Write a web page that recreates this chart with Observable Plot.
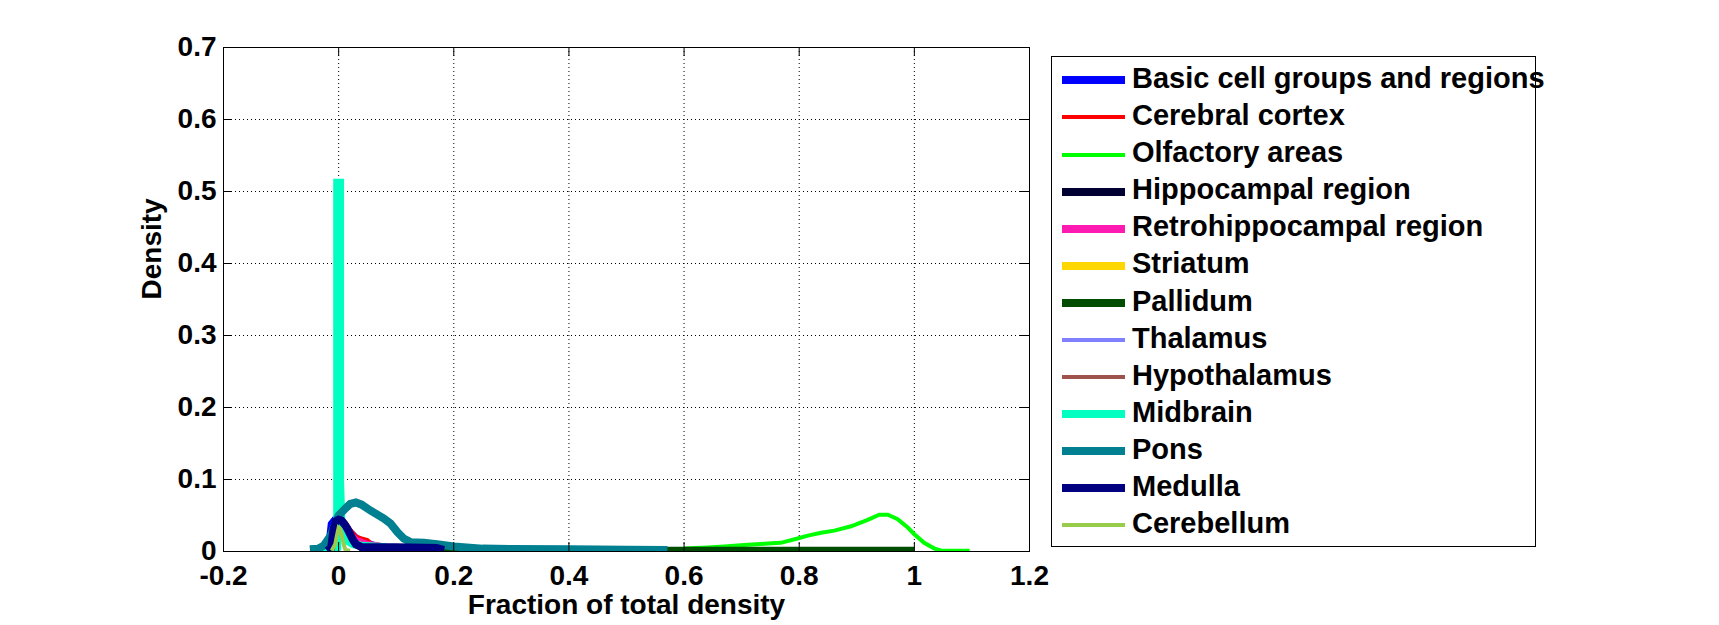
<!DOCTYPE html>
<html>
<head>
<meta charset="utf-8">
<script src="https://cdn.jsdelivr.net/npm/d3@7"></script>
<script src="https://cdn.jsdelivr.net/npm/@observablehq/plot@0.6"></script>
<style>
  html, body { margin: 0; padding: 0; background: #fff; }
  #wrap { position: relative; width: 1719px; height: 625px; overflow: hidden; background: #fff;
          font-family: "Liberation Sans", Arial, Helvetica, sans-serif; font-weight: bold; }
  #chart { position: absolute; left: 0; top: 0; }
  #legend { position: absolute; left: 1051px; top: 56px; width: 483px; height: 486px;
            border: 1px solid #000; box-sizing: content-box; padding-top: 3px; }
  .row { height: 37.1px; line-height: 37.1px; white-space: nowrap; font-size: 29px; color: #000; }
  .sw { display: inline-block; width: 63px; margin-left: 10px; margin-right: 7px; vertical-align: middle; }
</style>
</head>
<body>
<div id="wrap">
  <div id="chart"></div>
  <div id="legend"></div>
</div>
<script>
// ---- Data ----
const seriesNames = [
  "Basic cell groups and regions", "Cerebral cortex", "Olfactory areas", "Hippocampal region",
  "Retrohippocampal region", "Striatum", "Pallidum", "Thalamus", "Hypothalamus",
  "Midbrain", "Pons", "Medulla", "Cerebellum"
];
const seriesColors = [
  "#0000FF", "#FF0000", "#00FF00", "#000033", "#FF1AB1", "#FFD700", "#004C00",
  "#8080FF", "#A0524D", "#00FFC0", "#008090", "#000080", "#99CC4D"
];
const seriesWidths = [8, 4, 4, 8, 8, 8, 8, 4, 4, 8, 8, 8, 4];

const xTicks = [-0.2, 0, 0.2, 0.4, 0.6, 0.8, 1, 1.2];
const yTicks = [0, 0.1, 0.2, 0.3, 0.4, 0.5, 0.6, 0.7];

// [fraction of total density, density]
const basicCells = [[-0.025,0.001],[-0.016,0.01],[-0.012,0.038],[-0.006,0.044],[0,0.043],[0.01,0.036],[0.02,0.026],[0.03,0.018],[0.04,0.014],[0.05,0.011],[0.06,0.008],[0.08,0.004],[0.1,0.002]];
const cerebralCortex = [[-0.01,0.002],[-0.005,0.02],[0,0.04],[0.01,0.042],[0.015,0.037],[0.02,0.03],[0.03,0.021],[0.04,0.018],[0.05,0.016],[0.055,0.012],[0.06,0.006],[0.07,0.003],[0.09,0.002],[0.12,0.001]];
const olfactoryAreas = [[0.6,0.004],[0.641,0.0055],[0.67,0.007],[0.704,0.009],[0.745,0.011],[0.768,0.012],[0.797,0.018],[0.815,0.022],[0.838,0.026],[0.861,0.029],[0.89,0.035],[0.919,0.044],[0.939,0.051],[0.954,0.051],[0.971,0.045],[0.989,0.033],[1.0,0.024],[1.017,0.012],[1.035,0.004],[1.046,0.0015],[1.096,0.001]];
const hippocampal = [[-0.01,0.002],[0,0.04],[0.01,0.035],[0.02,0.02],[0.04,0.006],[0.07,0.002]];
const retrohippocampal = [[-0.01,0.002],[0,0.035],[0.01,0.03],[0.03,0.015],[0.05,0.009],[0.07,0.007],[0.08,0.004],[0.1,0.002]];
const striatum = [[-0.01,0.002],[0,0.03],[0.01,0.025],[0.03,0.01],[0.05,0.004],[0.08,0.002]];
const pallidum = [[0.095,0.001],[0.2,0.001],[0.4,0.001],[0.6,0.001],[0.8,0.001],[1.0,0.001]];
const thalamus = [[-0.03,0.001],[-0.01,0.01],[0,0.03],[0.01,0.025],[0.03,0.008],[0.06,0.002]];
const hypothalamus = [[-0.01,0.002],[0,0.028],[0.01,0.024],[0.03,0.008],[0.06,0.002]];
const midbrain = [[-0.03,0.001],[-0.008,0.002],[-0.0025,0.005],[-0.0025,0.26],[-0.0025,0.512],[0.0025,0.512],[0.0025,0.1],[0.005,0.03],[0.015,0.015],[0.025,0.01],[0.04,0.008],[0.06,0.007],[0.08,0.006],[0.09,0.004],[0.1,0.002]];
const pons = [[-0.05,0.003],[-0.035,0.004],[-0.026,0.008],[-0.014,0.022],[-0.005,0.04],[0,0.05],[0.012,0.06],[0.02,0.066],[0.03,0.068],[0.04,0.065],[0.055,0.057],[0.078,0.046],[0.09,0.039],[0.102,0.027],[0.113,0.018],[0.125,0.013],[0.148,0.012],[0.171,0.01],[0.2,0.007],[0.25,0.004],[0.3,0.0035],[0.4,0.003],[0.5,0.0025],[0.571,0.002]];
const medulla = [[-0.02,0.001],[-0.013,0.005],[-0.009,0.03],[-0.005,0.042],[0,0.044],[0.005,0.043],[0.01,0.038],[0.015,0.032],[0.02,0.024],[0.025,0.016],[0.03,0.01],[0.04,0.006],[0.1,0.006],[0.17,0.005],[0.183,0.002]];
const cerebellum = [[-0.012,0.001],[-0.006,0.01],[-0.003,0.022],[0,0.033],[0.003,0.031],[0.006,0.02],[0.009,0.009],[0.012,0.002],[0.02,0.001]];

const seriesPoints = [basicCells, cerebralCortex, olfactoryAreas, hippocampal, retrohippocampal,
  striatum, pallidum, thalamus, hypothalamus, midbrain, pons, medulla, cerebellum];

// ---- Chart ----
const W = 1719, H = 625;
const mL = 223, mR = 690, mT = 47, mB = 74;
const pw = W - mL - mR, ph = H - mT - mB;
const tickLen = 9;
const font = '"Liberation Sans", Arial, Helvetica, sans-serif';

const lineMarks = seriesPoints.map((pts, i) => Plot.line(pts, {
  x: d => d[0], y: d => d[1],
  stroke: seriesColors[i], strokeWidth: seriesWidths[i],
  strokeLinejoin: "miter", strokeMiterlimit: 4, strokeLinecap: "butt", clip: true
}));

const chart = Plot.plot({
  width: W, height: H,
  marginLeft: mL, marginRight: mR, marginTop: mT, marginBottom: mB,
  x: {domain: [-0.2, 1.2]},
  y: {domain: [0, 0.7]},
  style: {fontFamily: font, fontWeight: "bold", background: "transparent", color: "#000", overflow: "visible"},
  marks: [
    Plot.ruleX(xTicks, {x: d => d, stroke: "#000", strokeWidth: 1, strokeDasharray: "1,3"}),
    Plot.ruleY(yTicks, {y: d => d, stroke: "#000", strokeWidth: 1, strokeDasharray: "1,3"}),
    ...lineMarks,
    Plot.ruleY(yTicks, {y: d => d, stroke: "#000", insetRight: pw - tickLen}),
    Plot.ruleY(yTicks, {y: d => d, stroke: "#000", insetLeft: pw - tickLen}),
    Plot.ruleX(xTicks, {x: d => d, stroke: "#000", insetTop: ph - tickLen}),
    Plot.ruleX(xTicks, {x: d => d, stroke: "#000", insetBottom: ph - tickLen}),
    Plot.frame({stroke: "#000", strokeWidth: 1}),
    Plot.axisX(xTicks, {tickSize: 0, tickPadding: 14, tickFormat: d => String(d), fontSize: 28, fontWeight: "bold", label: null}),
    Plot.axisY(yTicks, {tickSize: 0, tickPadding: 7, tickFormat: d => String(d), fontSize: 28, fontWeight: "bold", label: null}),
    Plot.text(["Density"], {text: d => d, frameAnchor: "left", rotate: -90, dx: -71, fontSize: 28, fontWeight: "bold"}),
    Plot.text(["Fraction of total density"], {text: d => d, frameAnchor: "bottom", lineAnchor: "middle", dy: 54, fontSize: 28, fontWeight: "bold"})
  ]
});
document.getElementById("chart").appendChild(chart);

// ---- Legend ----
const legend = document.getElementById("legend");
seriesNames.forEach((name, i) => {
  const row = document.createElement("div");
  row.className = "row";
  const sw = document.createElement("span");
  sw.className = "sw";
  sw.style.height = seriesWidths[i] + "px";
  sw.style.background = seriesColors[i];
  row.appendChild(sw);
  row.appendChild(document.createTextNode(name));
  legend.appendChild(row);
});
</script>
</body>
</html>
